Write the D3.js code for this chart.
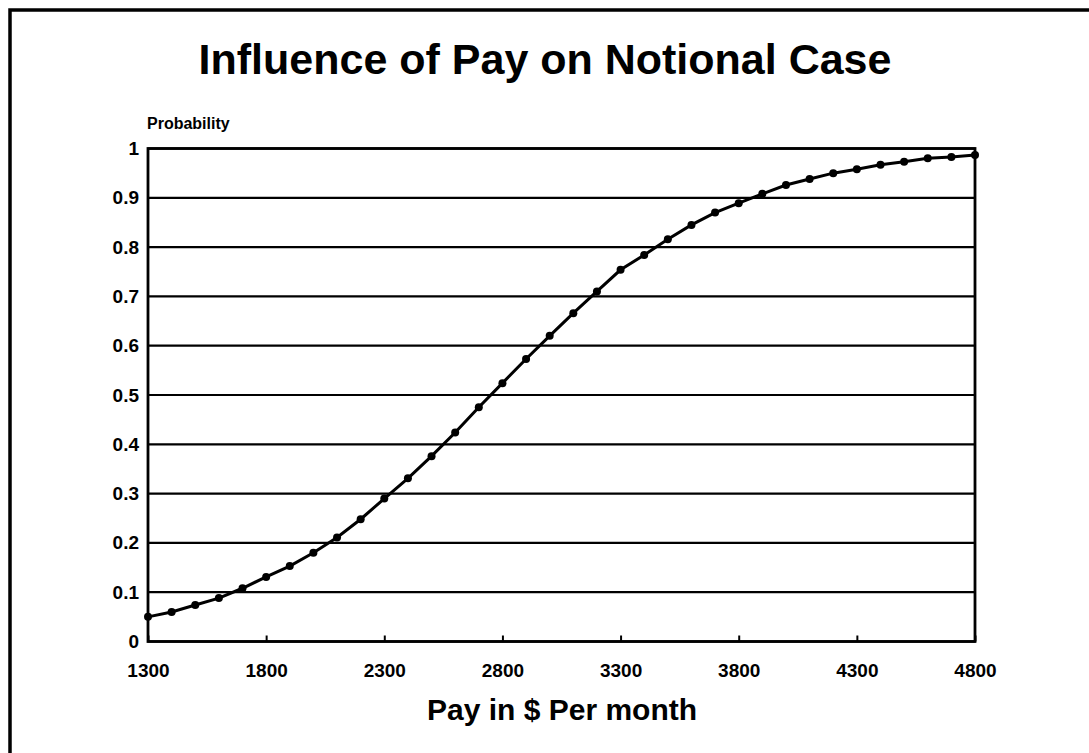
<!DOCTYPE html>
<html>
<head>
<meta charset="utf-8">
<script src="https://cdn.jsdelivr.net/npm/d3@7"></script>
<style>
  body { margin: 0; background: #fff; }
  text { font-family: "Liberation Sans", Arial, sans-serif; font-weight: bold; fill: #000; }
</style>
</head>
<body>
<svg id="chart" width="1089" height="753"></svg>
<script>
// pay in $ per month, every 100
const pay = [1300, 1400, 1500, 1600, 1700, 1800, 1900, 2000, 2100, 2200, 2300, 2400,
             2500, 2600, 2700, 2800, 2900, 3000, 3100, 3200, 3300, 3400, 3500, 3600,
             3700, 3800, 3900, 4000, 4100, 4200, 4300, 4400, 4500, 4600, 4700, 4800];
const probability = [0.050, 0.060, 0.074, 0.088, 0.108, 0.131, 0.153, 0.180, 0.211, 0.248, 0.290, 0.331,
                     0.376, 0.424, 0.475, 0.524, 0.573, 0.620, 0.666, 0.710, 0.754, 0.784, 0.816, 0.845,
                     0.870, 0.889, 0.908, 0.926, 0.938, 0.950, 0.958, 0.967, 0.973, 0.980, 0.983, 0.987];
const xTicks = [1300, 1800, 2300, 2800, 3300, 3800, 4300, 4800];
const yTicks = [0, 0.1, 0.2, 0.3, 0.4, 0.5, 0.6, 0.7, 0.8, 0.9, 1];

const svg = d3.select('#chart');
const plotLeft = 148, plotRight = 975, plotTop = 148.5, plotBottom = 641.5;

const x = d3.scaleLinear().domain([1300, 4800]).range([plotLeft, plotRight]);
const y = d3.scaleLinear().domain([0, 1]).range([plotBottom, plotTop]);

// page frame (top and left edges only)
svg.append('path')
    .attr('d', 'M10,753 L10,10 L1089,10')
    .attr('fill', 'none')
    .attr('stroke', '#000')
    .attr('stroke-width', 3.5);

svg.append('text')
    .attr('x', 545).attr('y', 74)
    .attr('text-anchor', 'middle')
    .style('font-size', '43px')
    .text('Influence of Pay on Notional Case');

svg.append('text')
    .attr('x', 147).attr('y', 129)
    .style('font-size', '16px')
    .text('Probability');

// gridlines
svg.append('g')
    .selectAll('line')
    .data(yTicks)
    .enter()
    .append('line')
        .attr('x1', plotLeft).attr('x2', plotRight)
        .attr('y1', d => y(d)).attr('y2', d => y(d))
        .attr('stroke', '#000')
        .attr('stroke-width', 2.2);

// y axis labels
const yAxis = svg.append('g')
    .attr('transform', `translate(${plotLeft},0)`)
    .call(d3.axisLeft(y).tickValues(yTicks).tickSize(0).tickPadding(9).tickFormat(d3.format('~g')));
yAxis.select('.domain').remove();
yAxis.selectAll('text').style('font-size', '19px').style('font-family', null);

// x axis with small inward ticks
const xAxis = svg.append('g')
    .attr('transform', `translate(0,${plotBottom})`)
    .call(d3.axisBottom(x).tickValues(xTicks).tickSizeInner(-6).tickSizeOuter(0).tickPadding(22).tickFormat(d3.format('d')));
xAxis.select('.domain').remove();
xAxis.selectAll('.tick line').attr('stroke', '#000').attr('stroke-width', 2);
xAxis.selectAll('text').style('font-size', '19px').style('font-family', null);

// plot frame
svg.append('rect')
    .attr('x', plotLeft).attr('y', plotTop)
    .attr('width', plotRight - plotLeft).attr('height', plotBottom - plotTop)
    .attr('fill', 'none')
    .attr('stroke', '#000')
    .attr('stroke-width', 2.8);

svg.append('text')
    .attr('x', 562).attr('y', 720)
    .attr('text-anchor', 'middle')
    .style('font-size', '30px')
    .text('Pay in $ Per month');

const data = pay.map((p, i) => ({p: p, v: probability[i]}));

svg.append('path')
    .datum(data)
    .attr('fill', 'none')
    .attr('stroke', '#000')
    .attr('stroke-width', 3)
    .attr('d', d3.line().x(d => x(d.p)).y(d => y(d.v)));

svg.append('g')
    .selectAll('circle')
    .data(data)
    .enter()
    .append('circle')
        .attr('cx', d => x(d.p))
        .attr('cy', d => y(d.v))
        .attr('r', 4)
        .attr('fill', '#000');
</script>
</body>
</html>
